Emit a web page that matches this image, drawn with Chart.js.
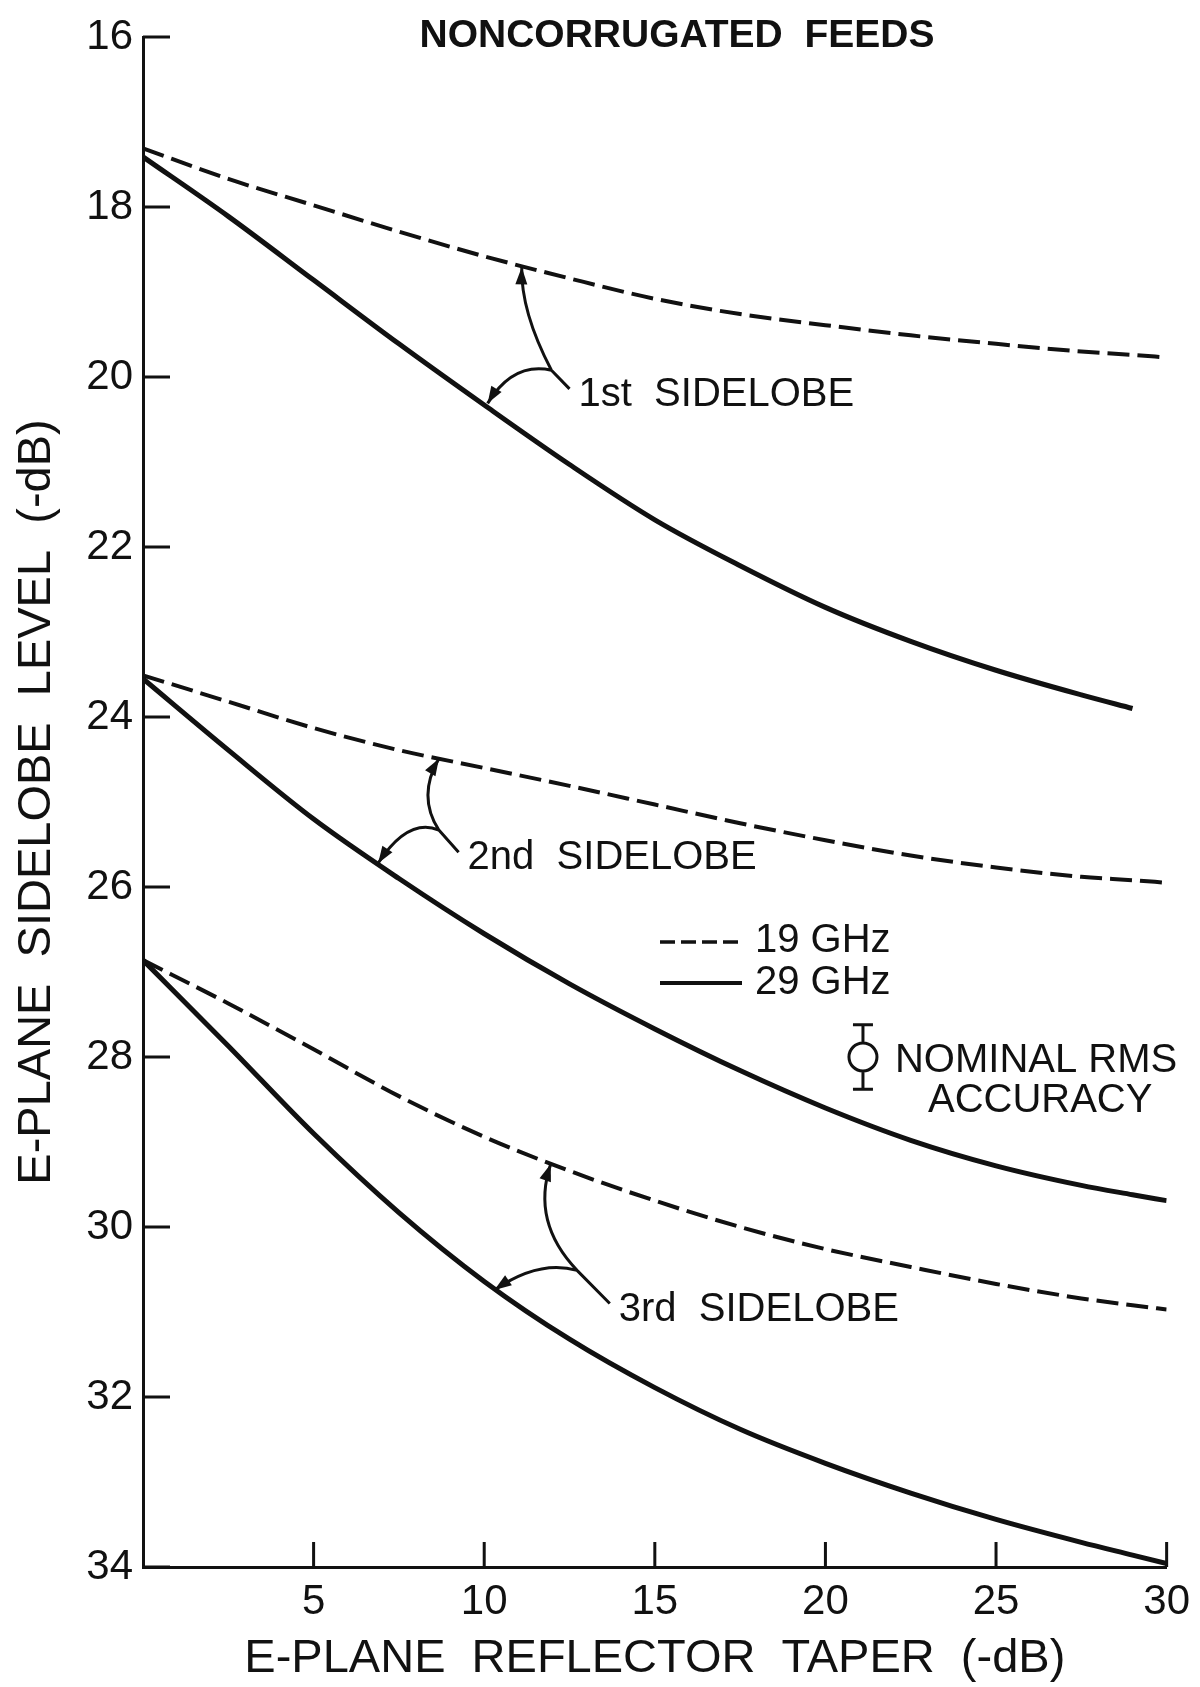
<!DOCTYPE html>
<html>
<head>
<meta charset="utf-8">
<title>Noncorrugated feeds - E-plane sidelobe level</title>
<script src="https://cdn.jsdelivr.net/npm/chart.js@4.4.0/dist/chart.umd.min.js"></script>
<style>
  html, body { margin: 0; padding: 0; background: #fff; }
  #chart { display: block; }
</style>
</head>
<body>
<canvas id="chart" width="1200" height="1687"></canvas>
<script>
// E-plane reflector taper (-dB), shared x positions for every curve
const taper = [0, 2.5, 5, 7.5, 10, 12.5, 15, 17.5, 20, 22.5, 25, 27.5, 29, 30];

// E-plane sidelobe level (-dB)
const lobe1At19 = [17.31, 17.67, 17.98, 18.29, 18.58, 18.84, 19.08, 19.26, 19.39, 19.51, 19.61, 19.70, 19.74, 19.77];
const lobe1At29 = [17.41, 18.11, 18.86, 19.61, 20.33, 21.03, 21.68, 22.22, 22.71, 23.11, 23.45, 23.74, 23.90, null];
const lobe2At19 = [23.51, 23.82, 24.13, 24.39, 24.60, 24.81, 25.03, 25.25, 25.45, 25.63, 25.77, 25.88, 25.92, 25.95];
const lobe2At29 = [23.55, 24.39, 25.20, 25.90, 26.55, 27.14, 27.67, 28.16, 28.60, 28.98, 29.28, 29.51, 29.62, 29.69];
const lobe3At19 = [26.86, 27.37, 27.91, 28.46, 28.94, 29.34, 29.69, 30.00, 30.26, 30.47, 30.67, 30.84, 30.92, 30.97];
const lobe3At29 = [26.86, 27.87, 28.90, 29.83, 30.64, 31.32, 31.89, 32.38, 32.78, 33.13, 33.44, 33.71, 33.86, 33.96];

const xTicks = [5, 10, 15, 20, 25, 30];
const yTicks = [16, 18, 20, 22, 24, 26, 28, 30, 32, 34];

// nominal rms accuracy marker: centre and half-spread, in data units
const rmsCentre = [21.1, 28.0];
const rmsSpread = 0.38;

// callout arrows, in data units (stem start, hub, bend + tip to each curve)
const calloutText = ['1st  SIDELOBE', '2nd  SIDELOBE', '3rd  SIDELOBE'];
const calloutStem = [[12.5, 20.14], [9.25, 25.59], [13.68, 30.90]];
const calloutHub = [[11.97, 19.92], [8.67, 25.33], [12.72, 30.51]];
const calloutUpBend = [[11.07, 19.23], [8.03, 24.93], [11.37, 29.94]];
const calloutUpTip = [[11.1, 18.71], [8.67, 24.49], [11.95, 29.26]];
const calloutDownBend = [[10.84, 19.82], [7.77, 25.18], [11.61, 30.38]];
const calloutDownTip = [[10.1, 20.31], [6.89, 25.72], [10.3, 30.74]];

const ink = '#111';
const face = '"Liberation Sans", Arial, sans-serif';

Chart.defaults.font.family = face;
Chart.defaults.color = ink;

function toPoints(vals) {
  return taper.map((x, i) => ({ x: x, y: vals[i] })).filter(p => p.y !== null);
}

function curve(label, vals, dashed) {
  return {
    label: label,
    data: toPoints(vals),
    borderColor: ink,
    borderWidth: dashed ? 4 : 5,
    borderDash: dashed ? [22, 8] : [],
    fill: false,
    pointRadius: 0,
    cubicInterpolationMode: 'monotone'
  };
}

function arrowHead(ctx, from, tip) {
  const ang = Math.atan2(tip.y - from.y, tip.x - from.x);
  const len = 17, half = 6;
  const bx = tip.x - len * Math.cos(ang), by = tip.y - len * Math.sin(ang);
  ctx.beginPath();
  ctx.moveTo(tip.x, tip.y);
  ctx.lineTo(bx + half * Math.sin(ang), by - half * Math.cos(ang));
  ctx.lineTo(bx - half * Math.sin(ang), by + half * Math.cos(ang));
  ctx.closePath();
  ctx.fill();
}

const overlay = {
  id: 'overlay',
  afterDraw(chart) {
    const { ctx, chartArea: a, scales: { x, y } } = chart;
    const pt = v => ({ x: x.getPixelForValue(v[0]), y: y.getPixelForValue(v[1]) });
    ctx.save();
    ctx.strokeStyle = ink;
    ctx.fillStyle = ink;
    ctx.lineCap = 'butt';

    // tick marks point into the plot
    ctx.lineWidth = 3;
    ctx.beginPath();
    y.ticks.forEach(t => {
      const py = y.getPixelForValue(t.value);
      ctx.moveTo(a.left, py);
      ctx.lineTo(a.left + 27, py);
    });
    x.ticks.forEach(t => {
      const px = x.getPixelForValue(t.value);
      ctx.moveTo(px, a.bottom);
      ctx.lineTo(px, a.bottom - 25);
    });
    ctx.stroke();

    // heading
    ctx.textBaseline = 'middle';
    ctx.textAlign = 'center';
    ctx.font = 'bold 39px ' + face;
    ctx.fillText('NONCORRUGATED  FEEDS', 677, 36);

    // sidelobe callouts
    ctx.textAlign = 'left';
    ctx.font = '40px ' + face;
    ctx.lineWidth = 3;
    calloutText.forEach((txt, i) => {
      const s = pt(calloutStem[i]), h = pt(calloutHub[i]);
      const ub = pt(calloutUpBend[i]), ut = pt(calloutUpTip[i]);
      const db = pt(calloutDownBend[i]), dt = pt(calloutDownTip[i]);
      ctx.beginPath();
      ctx.moveTo(s.x, s.y);
      ctx.lineTo(h.x, h.y);
      ctx.moveTo(h.x, h.y);
      ctx.quadraticCurveTo(ub.x, ub.y, ut.x, ut.y);
      ctx.moveTo(h.x, h.y);
      ctx.quadraticCurveTo(db.x, db.y, dt.x, dt.y);
      ctx.stroke();
      arrowHead(ctx, ub, ut);
      arrowHead(ctx, db, dt);
      ctx.fillText(txt, s.x + 9, s.y + 6);
    });

    // line key
    ctx.lineWidth = 3.5;
    ctx.setLineDash([15, 6]);
    ctx.beginPath();
    ctx.moveTo(660, 942);
    ctx.lineTo(742, 942);
    ctx.stroke();
    ctx.setLineDash([]);
    ctx.lineWidth = 4;
    ctx.beginPath();
    ctx.moveTo(660, 983);
    ctx.lineTo(742, 983);
    ctx.stroke();
    ctx.fillText('19 GHz', 755, 941);
    ctx.fillText('29 GHz', 755, 983);

    // nominal rms accuracy marker
    const c = pt(rmsCentre);
    const top = y.getPixelForValue(rmsCentre[1] - rmsSpread);
    const bot = y.getPixelForValue(rmsCentre[1] + rmsSpread);
    const r = 14;
    ctx.lineWidth = 3;
    ctx.beginPath();
    ctx.arc(c.x, c.y, r, 0, Math.PI * 2);
    ctx.moveTo(c.x, top); ctx.lineTo(c.x, c.y - r);
    ctx.moveTo(c.x, c.y + r); ctx.lineTo(c.x, bot);
    ctx.moveTo(c.x - 10, top); ctx.lineTo(c.x + 10, top);
    ctx.moveTo(c.x - 10, bot); ctx.lineTo(c.x + 10, bot);
    ctx.stroke();
    ctx.fillText('NOMINAL RMS', c.x + 32, c.y + 4);
    ctx.fillText('ACCURACY', c.x + 65, c.y + 44);

    ctx.restore();
  }
};

new Chart(document.getElementById('chart').getContext('2d'), {
  type: 'line',
  data: {
    datasets: [
      curve('1st sidelobe, 19 GHz', lobe1At19, true),
      curve('1st sidelobe, 29 GHz', lobe1At29, false),
      curve('2nd sidelobe, 19 GHz', lobe2At19, true),
      curve('2nd sidelobe, 29 GHz', lobe2At29, false),
      curve('3rd sidelobe, 19 GHz', lobe3At19, true),
      curve('3rd sidelobe, 29 GHz', lobe3At29, false)
    ]
  },
  options: {
    responsive: false,
    animation: false,
    devicePixelRatio: 1,
    layout: { padding: { left: 0, right: 27, top: 37, bottom: 0 } },
    plugins: {
      legend: { display: false },
      tooltip: { enabled: false }
    },
    scales: {
      x: {
        type: 'linear',
        min: 0,
        max: 30,
        afterBuildTicks: s => { s.ticks = xTicks.map(v => ({ value: v })); },
        afterFit: s => { s.height = 120; },
        grid: { display: false, drawTicks: false },
        border: { display: true, color: ink, width: 3 },
        ticks: { color: ink, font: { size: 42 }, padding: 10, maxRotation: 0 },
        title: {
          display: true,
          text: 'E-PLANE  REFLECTOR  TAPER  (-dB)',
          color: ink,
          font: { size: 47, lineHeight: 1 },
          padding: { top: 0, bottom: 4 }
        }
      },
      y: {
        type: 'linear',
        min: 16,
        max: 34,
        reverse: true,
        afterBuildTicks: s => { s.ticks = yTicks.map(v => ({ value: v })); },
        afterFit: s => { s.width = 143; },
        grid: { display: false, drawTicks: false },
        border: { display: true, color: ink, width: 3 },
        ticks: { color: ink, font: { size: 42 }, padding: 10 },
        title: {
          display: true,
          text: 'E-PLANE  SIDELOBE  LEVEL  (-dB)',
          color: ink,
          font: { size: 47, lineHeight: 1 },
          padding: { top: 14, bottom: 0 }
        }
      }
    }
  },
  plugins: [overlay]
});
</script>
</body>
</html>
